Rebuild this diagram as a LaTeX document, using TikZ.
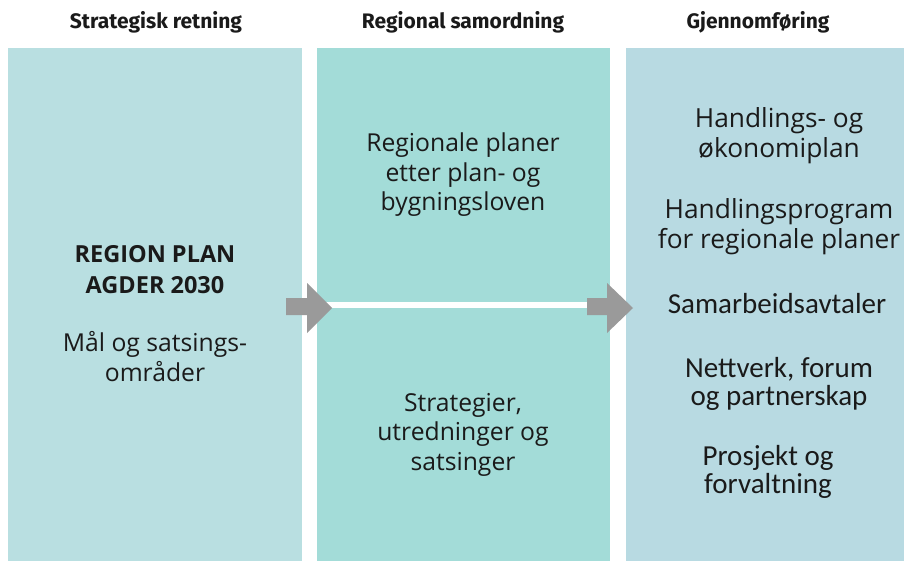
\documentclass[tikz,border=0pt]{standalone}
\usepackage{fontspec}
\setmainfont{Open Sans}
\newfontfamily\calfont{Carlito}
\newfontfamily\headfont{Fira Sans}
\definecolor{pone}{HTML}{B9DFE1}
\definecolor{ptwo}{HTML}{A3DCD8}
\definecolor{pthree}{HTML}{B8DAE2}
\definecolor{arrowgrey}{HTML}{9A9A9A}
\definecolor{txt}{HTML}{1A1A1A}
\tikzset{
  header/.style={font=\headfont\fontsize{21}{22}\selectfont\bfseries, text=txt, anchor=base},
  body/.style={font=\fontsize{24.7}{29.5}\selectfont, text=txt, align=center, anchor=base},
  bodyb/.style={font=\fontsize{26.3}{29}\selectfont, text=txt, align=center, anchor=base},
  bodyc/.style={font=\calfont\fontsize{29}{28}\selectfont, text=txt, align=center, anchor=base},
  bigarrow/.style={fill=arrowgrey, draw=none}
}
\begin{document}
\begin{tikzpicture}[x=1pt,y=-1pt]
\useasboundingbox (0,0) rectangle (904,561);
\fill[white] (0,0) rectangle (904,561);
% panels
\fill[pone] (8,48) rectangle (302,561);
\fill[ptwo] (317,48) rectangle (610,302);
\fill[ptwo] (317,308) rectangle (610,561);
\fill[pthree] (626,48) rectangle (904,561);
% headers
\node[header] (h1) at (156,29) {Strategisk retning};
\node[header] (h2) at (463,29) {Regional samordning};
\node[header] (h3) at (758,29) {Gjennomføring};
% panel 1 (anchor = baseline of last line)
\node[body, font=\fontsize{23.5}{31}\selectfont\bfseries] (rp) at (155,293) {REGION PLAN\\AGDER 2030};
\node[body] (mal) at (155,381) {Mål og satsings-\\områder};
% panel 2
\node[body] (reg) at (463,211) {Regionale planer\\etter plan- og\\bygningsloven};
\node[body] (str) at (463,470) {Strategier,\\utredninger og\\satsinger};
% panel 3
\node[bodyb, font=\fontsize{26.3}{30}\selectfont] (hand) at (779,158) {Handlings- og\\økonomiplan};
\node[bodyb] (hp) at (779,248) {Handlingsprogram\\for regionale planer};
\node[bodyc] (sam) at (777,313) {Samarbeidsavtaler};
\node[bodyc] (nett) at (779,405) {Nettverk, forum\\og partnerskap};
\node[bodyc] (pro) at (768,493) {Prosjekt og\\forvaltning};
% arrows
\fill[bigarrow] (286,298) -- (307,298) -- (307,283) -- (332,308) -- (307,333) -- (307,315) -- (286,315) -- cycle;
\fill[bigarrow] (587,298) -- (607,298) -- (607,283) -- (633,308) -- (607,333) -- (607,315) -- (587,315) -- cycle;
\end{tikzpicture}
\end{document}
